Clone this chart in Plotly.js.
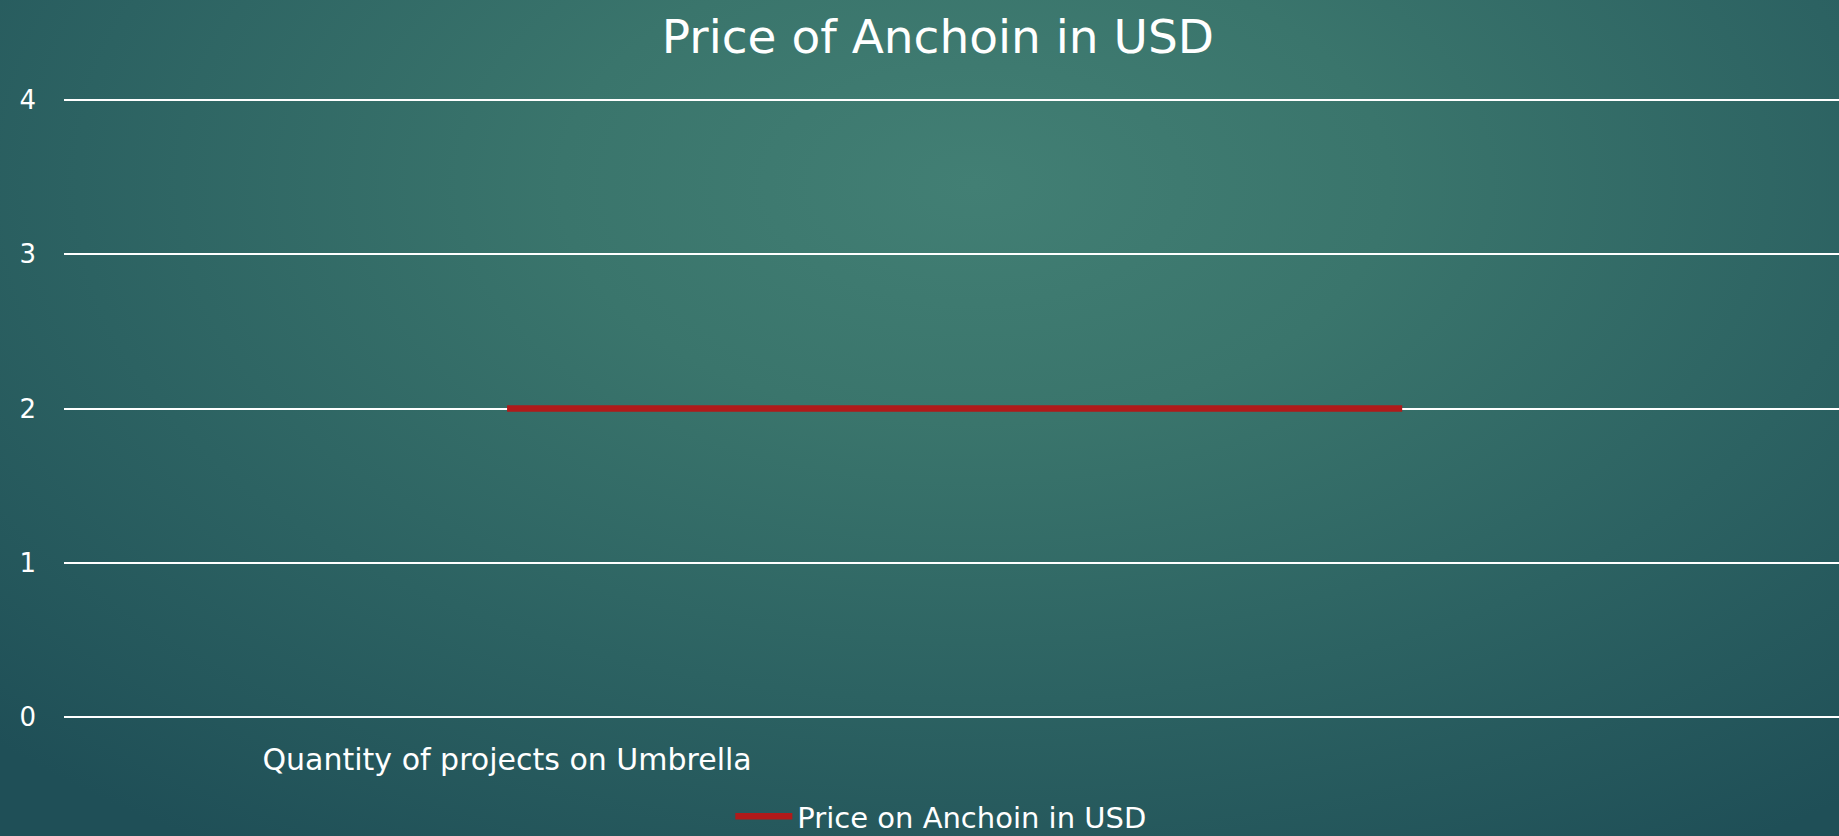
<!DOCTYPE html>
<html>
<head>
<meta charset="utf-8">
<script src="https://cdn.plot.ly/plotly-3.0.1.min.js"></script>
<style>
  html, body { margin: 0; padding: 0; width: 1839px; height: 836px; overflow: hidden; }
  body {
    background: radial-gradient(ellipse 75% 95% at 53% 22%, #427f74 0%, #3a756c 30%, #2c6262 65%, #1f4f57 100%);
  }
  #chart { width: 1839px; height: 836px; }
</style>
</head>
<body>
<div id="chart"></div>
<script>
const chartTitle = "Price of Anchoin in USD";
const categories = ["Quantity of projects on Umbrella", ""];
const seriesName = "Price on Anchoin in USD";
const seriesValues = [2, 2];
const yTicks = [0, 1, 2, 3, 4];

const xIdx = categories.map((_, i) => i);
const FONT = "DejaVu Sans, sans-serif";

const trace = {
  x: xIdx,
  y: seriesValues,
  type: "scatter",
  mode: "lines",
  name: seriesName,
  line: { color: "#b01a1a", width: 6.5 },
  showlegend: true,
  hoverinfo: "none"
};

const layout = {
  width: 1839,
  height: 836,
  paper_bgcolor: "rgba(0,0,0,0)",
  plot_bgcolor: "rgba(0,0,0,0)",
  margin: { l: 64, r: 0, t: 98, b: 119, pad: 0, autoexpand: false },
  title: {
    text: chartTitle,
    font: { family: FONT, size: 47, color: "#ffffff" },
    xref: "container", x: 0.51, xanchor: "center",
    yref: "container", y: 0.956, yanchor: "middle"
  },
  xaxis: {
    range: [-0.495, 1.488],
    tickvals: xIdx,
    ticktext: categories,
    showgrid: false,
    zeroline: false,
    showline: false,
    ticks: "",
    automargin: false,
    ticklabelstandoff: 22,
    tickfont: { family: FONT, size: 30, color: "#ffffff" },
    fixedrange: true
  },
  yaxis: {
    range: [0, 4.013],
    tickvals: yTicks,
    showgrid: true,
    gridcolor: "#ffffff",
    gridwidth: 2,
    zeroline: true,
    zerolinecolor: "#ffffff",
    zerolinewidth: 2,
    showline: false,
    ticks: "",
    automargin: false,
    ticklabelstandoff: 27,
    tickfont: { family: FONT, size: 26, color: "#ffffff" },
    fixedrange: true
  },
  showlegend: true,
  legend: {
    orientation: "h",
    xref: "paper", x: 0.494, xanchor: "center",
    yref: "container", y: 0.0235, yanchor: "middle",
    itemwidth: 57,
    bgcolor: "rgba(0,0,0,0)",
    font: { family: FONT, size: 29, color: "#ffffff" }
  }
};

Plotly.newPlot("chart", [trace], layout, { displayModeBar: false, staticPlot: true });
</script>
</body>
</html>
